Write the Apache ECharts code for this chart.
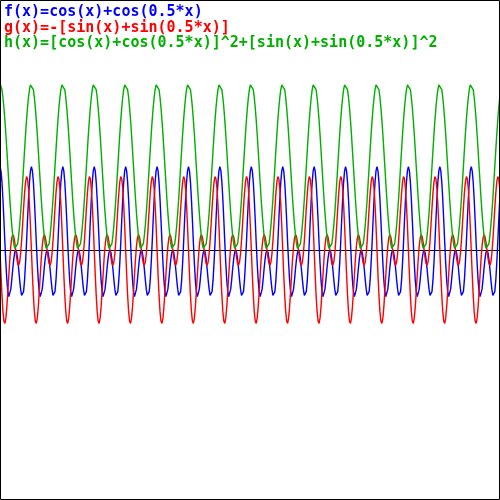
<!DOCTYPE html>
<html>
<head>
<meta charset="utf-8">
<script src="https://cdn.jsdelivr.net/npm/echarts@6/dist/echarts.min.js"></script>
<style>
html,body{margin:0;padding:0;background:#fff;}
#chart{width:500px;height:500px;}
</style>
</head>
<body>
<div id="chart"></div>
<script>
// Legend / title lines
const labels = [
  'f(x)=cos(x)+cos(0.5*x)',
  'g(x)=-[sin(x)+sin(0.5*x)]',
  'h(x)=[cos(x)+cos(0.5*x)]^2+[sin(x)+sin(0.5*x)]^2'
];
const colors = ['#0000ff', '#ff0000', '#00b000'];

// Axis ranges
const xMin = 0, xMax = 200;
const yMin = -6, yMax = 6;

// Sampling: one period (4*pi) read as 32 samples, spacing pi/8; 16 periods shown
const xStep = Math.PI / 8;
const periods = 16;

// One period of each curve
const fPeriod = [2.00, 1.90, 1.63, 1.21, 0.71, 0.17, -0.32, -0.73,
  -1.00, -1.12, -1.09, -0.94, -0.71, -0.45, -0.22, -0.06,
  0.00, -0.06, -0.22, -0.45, -0.71, -0.94, -1.09, -1.12,
  -1.00, -0.73, -0.32, 0.17, 0.71, 1.21, 1.63, 1.90];
const gPeriod = [0.00, -0.58, -1.09, -1.48, -1.71, -1.76, -1.63, -1.36,
  -1.00, -0.60, -0.22, 0.09, 0.29, 0.37, 0.32, 0.19,
  0.00, -0.19, -0.32, -0.37, -0.29, -0.09, 0.22, 0.60,
  1.00, 1.36, 1.63, 1.76, 1.71, 1.48, 1.09, 0.58];
const hPeriod = [4.00, 3.96, 3.85, 3.66, 3.41, 3.11, 2.77, 2.39,
  2.00, 1.61, 1.23, 0.89, 0.59, 0.34, 0.15, 0.04,
  0.00, 0.04, 0.15, 0.34, 0.59, 0.89, 1.23, 1.61,
  2.00, 2.39, 2.77, 3.11, 3.41, 3.66, 3.85, 3.96];

function build(period) {
  const out = [];
  for (let p = 0; p < periods; p++) {
    for (let j = 0; j < period.length; j++) {
      const i = p * period.length + j;
      out.push([i * xStep, period[j]]);
    }
  }
  return out;
}

const chart = echarts.init(document.getElementById('chart'), null, {renderer: 'canvas'});
const font = '"DejaVu Sans Mono", "Liberation Mono", monospace';
const lineMid = [12.5, 28, 43.5];

chart.setOption({
  animation: false,
  backgroundColor: '#ffffff',
  grid: {left: 0, right: 0, top: 0, bottom: 0, containLabel: false},
  xAxis: {
    type: 'value', min: xMin, max: xMax,
    axisLine: {show: true, onZero: true, lineStyle: {color: '#000', width: 1.2}},
    axisTick: {show: false}, axisLabel: {show: false}, splitLine: {show: false}
  },
  yAxis: {
    type: 'value', min: yMin, max: yMax,
    axisLine: {show: false}, axisTick: {show: false},
    axisLabel: {show: false}, splitLine: {show: false}
  },
  series: [fPeriod, gPeriod, hPeriod].map((p, k) => ({
    type: 'line',
    name: labels[k],
    data: build(p),
    showSymbol: false,
    symbol: 'none',
    clip: true,
    lineStyle: {color: colors[k], width: 1.4},
    z: 2 + k
  })),
  graphic: [
    {
      type: 'rect', z: 100, silent: true,
      shape: {x: 0.5, y: 0.5, width: 499, height: 499},
      style: {fill: 'none', stroke: '#000', lineWidth: 1}
    }
  ].concat(labels.map((t, k) => ({
    type: 'text', z: 101, silent: true,
    x: 4, y: lineMid[k],
    style: {
      text: t, fill: colors[k],
      font: 'bold 15px ' + font,
      verticalAlign: 'middle', align: 'left'
    }
  })))
});
</script>
</body>
</html>
